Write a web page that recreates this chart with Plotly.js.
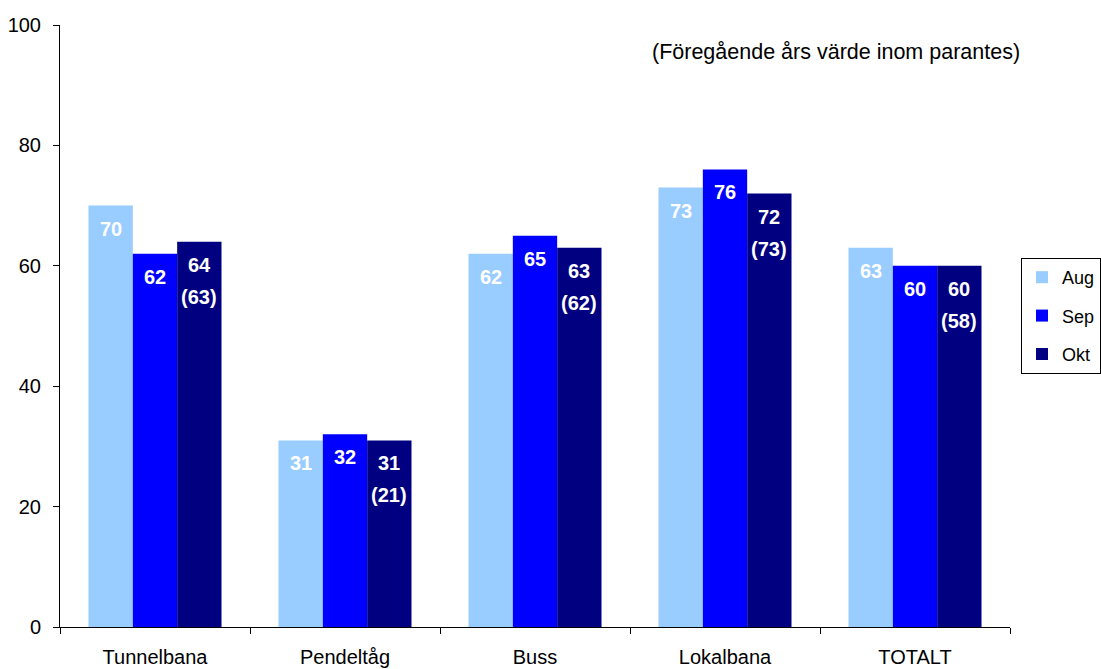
<!DOCTYPE html>
<html>
<head>
<meta charset="utf-8">
<script src="https://cdn.plot.ly/plotly-3.0.1.min.js"></script>
<style>html,body{margin:0;padding:0;background:#fff;}#chart{width:1101px;height:669px;}</style>
</head>
<body>
<div id="chart"></div>
<script>
const categories = ["Tunnelbana", "Pendeltåg", "Buss", "Lokalbana", "TOTALT"];
const seriesNames = ["Aug", "Sep", "Okt"];
const aug = [70, 31, 62, 73, 63];
const sep = [62, 32, 65, 76, 60];
const okt = [64, 31, 63, 72, 60];
const oktPrevYear = [63, 21, 62, 73, 58];
const yTicks = [0, 20, 40, 60, 80, 100];
const note = "(Föregående års värde inom parantes)";

const colors = ["#99CCFF", "#0000FF", "#000080"];
const seriesValues = [aug, sep, okt];
const FONT = "Liberation Sans, Arial, Helvetica, sans-serif";

const traces = seriesValues.map((vals, i) => ({
  type: "bar",
  name: seriesNames[i],
  x: categories,
  y: vals,
  legendgroup: seriesNames[i],
  marker: {color: colors[i], line: {width: 0}},
  hoverinfo: "x+y+name"
}));

// Value labels placed inside bar tops (via category index on the axis)
const barGap = 0.3;
const barW = (1 - barGap) / 3;
const labelFont = {family: FONT, size: 20, color: "#ffffff"};
const annotations = [];
seriesValues.forEach((vals, s) => {
  vals.forEach((v, c) => {
    annotations.push({
      x: c + (s - 1) * barW, y: v,
      xref: "x", yref: "y",
      text: "<b>" + v + "</b>",
      showarrow: false, yanchor: "top", yshift: -10,
      font: labelFont
    });
    if (s === 2) {
      annotations.push({
        x: c + (s - 1) * barW, y: v,
        xref: "x", yref: "y",
        text: "<b>(" + oktPrevYear[c] + ")</b>",
        showarrow: false, yanchor: "top", yshift: -42,
        font: labelFont
      });
    }
  });
});
annotations.push({
  xref: "paper", yref: "paper",
  x: 1.0126, y: 0.955,
  xanchor: "right", yanchor: "middle",
  text: note, showarrow: false,
  font: {family: FONT, size: 21.5, color: "#000000"}
});

const layout = {
  width: 1101, height: 669,
  margin: {l: 60, r: 91, t: 25, b: 42, autoexpand: false},
  paper_bgcolor: "#ffffff", plot_bgcolor: "#ffffff",
  font: {family: FONT, size: 20, color: "#000000"},
  barmode: "group",
  bargap: barGap, bargroupgap: 0,
  showlegend: true,
  legend: {
    x: 1.0116, y: 0.613, xanchor: "left", yanchor: "top",
    bgcolor: "#ffffff", bordercolor: "#000000", borderwidth: 1,
    font: {family: FONT, size: 18, color: "#000000"},
    traceorder: "grouped", tracegroupgap: 12
  },
  xaxis: {
    type: "category",
    showline: true, linecolor: "#000000", linewidth: 1,
    ticks: "outside", tickson: "boundaries", ticklen: 6, tickcolor: "#000000",
    ticklabelstandoff: 12,
    showgrid: false, zeroline: false,
    tickfont: {family: FONT, size: 20, color: "#000000"}
  },
  yaxis: {
    range: [0, 100],
    tickvals: yTicks,
    showline: true, linecolor: "#000000", linewidth: 1,
    ticks: "outside", ticklen: 6, tickcolor: "#000000",
    ticklabelstandoff: 8,
    showgrid: false, zeroline: false,
    tickfont: {family: FONT, size: 20, color: "#000000"}
  },
  annotations: annotations
};

Plotly.newPlot("chart", traces, layout, {displayModeBar: false, staticPlot: true});
</script>
</body>
</html>
